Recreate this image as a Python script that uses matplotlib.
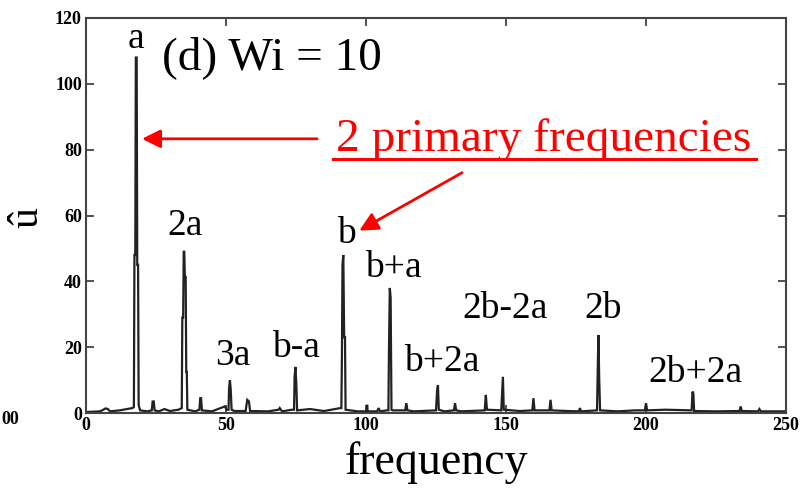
import matplotlib
matplotlib.use("Agg")
import matplotlib.pyplot as plt

# ---- data ----
freq = [0, 5, 6.2, 7.0, 7.8, 8.6, 12, 16.6,
        17.1, 17.3, 17.6, 17.8, 18.1, 18.3, 18.6, 18.8, 19.3,
        22, 23.5, 23.8, 24.2, 24.5, 26, 28, 30, 33,
        34.2, 34.4, 34.7, 34.9, 35.1, 35.3, 35.6, 35.8, 36.0, 36.2,
        39, 40.5, 40.8, 41.1, 41.4, 45, 49.6, 50.2,
        50.9, 51.1, 51.4, 51.7, 52.0, 53, 57, 57.6, 58.2, 58.6,
        65, 68.8, 69.2, 70, 73.5,
        74.3, 74.5, 74.8, 75.1, 75.4, 80, 85, 90.9,
        91.2, 91.4, 91.6, 91.9, 92.2, 92.5, 92.7,
        97, 100.2, 100.4, 100.6, 104, 104.5, 105, 107.4,
        108.0, 108.2, 108.5, 108.8, 109.1, 109.5,
        114, 114.4, 114.8, 117, 125.0, 125.4, 125.7, 126.0, 128,
        131.4, 131.8, 132.2, 134, 142.4, 142.8, 143.2,
        148.3, 148.6, 148.9, 149.2, 155, 159.4, 159.8, 160.2,
        165.5, 165.9, 166.3, 172, 176, 176.4, 176.8,
        182.5, 182.7, 183.0, 183.3, 183.6,
        190, 196, 199.6, 200.0, 200.4, 207, 216.3, 216.6, 216.9, 217.2,
        225, 233.4, 233.8, 234.2, 240, 240.5, 241, 245, 250]
amp = [0.3, 0.5, 1.0, 1.4, 1.2, 0.5, 0.8, 1.5,
       1.8, 48.0, 48.0, 108.0, 108.0, 45.0, 45.0, 2.5, 0.8,
       0.5, 0.8, 3.5, 3.5, 0.8, 0.5, 1.2, 0.6, 1.0,
       1.5, 29.0, 29.0, 49.0, 49.0, 41.3, 41.3, 12.5, 12.5, 1.0,
       0.5, 1.0, 4.5, 4.5, 0.8, 0.5, 2.0, 1.0,
       1.0, 7.5, 10.0, 7.0, 1.0, 0.6, 0.6, 4.0, 3.5, 0.6,
       0.5, 1.0, 1.5, 0.5, 1.0,
       1.0, 11.0, 14.0, 9.0, 0.8, 1.2, 0.6, 1.5,
       1.5, 17.0, 45.0, 48.0, 23.0, 23.0, 1.0,
       0.5, 0.5, 2.5, 0.5, 0.5, 1.5, 0.5, 0.8,
       0.8, 19.0, 38.0, 35.0, 1.0, 0.8,
       0.8, 3.0, 0.8, 0.5, 0.8, 7.0, 8.5, 1.0, 0.5,
       0.8, 3.0, 0.8, 0.5, 0.8, 5.5, 1.0,
       0.8, 6.0, 11.0, 1.0, 0.6, 0.8, 4.5, 0.8,
       0.8, 4.0, 0.8, 0.6, 0.5, 1.5, 0.5,
       0.8, 10.5, 23.7, 10.0, 0.8,
       0.5, 0.8, 0.8, 3.0, 0.8, 1.0, 0.8, 6.5, 6.0, 0.6,
       0.5, 0.6, 2.0, 0.6, 0.5, 1.2, 0.5, 0.5, 0.5]

peak_labels = ["a", "2a", "3a", "b-a", "b", "b+a", "b+2a", "2b-2a", "2b", "2b+2a"]
label_x = [17.9, 35.4, 52.5, 75.0, 92.9, 109.6, 127.1, 149.6, 184.6, 217.5]
label_y = [113.8, 56.8, 17.3, 19.8, 54.4, 44.1, 15.5, 31.8, 31.8, 12.3]

x_ticks = [0, 50, 100, 150, 200, 250]
y_ticks = [0, 20, 40, 60, 80, 100, 120]

W, H = 804, 492
fig = plt.figure(figsize=(W / 100, H / 100), dpi=100)
ax = fig.add_axes([86 / W, 1 - 413 / H, 700 / W, 395 / H])

serif = "Liberation Serif"

ax.plot(freq, amp, color="#222222", lw=1.6, solid_joinstyle="miter")
ax.set_xlim(0, 250)
ax.set_ylim(0, 120)
ax.set_xticks(x_ticks)
ax.set_yticks(y_ticks)
for s in ax.spines.values():
    s.set_color("#444444")
    s.set_linewidth(1.5)
ax.tick_params(direction="in", length=6, width=1.3, color="#444444",
               top=True, right=True, pad=3)
for lab in ax.get_xticklabels() + ax.get_yticklabels():
    lab.set_fontfamily(serif)
    lab.set_fontweight("bold")
    lab.set_fontsize(13)

for t, x, y in zip(peak_labels, label_x, label_y):
    ax.text(x, y, t, fontsize=27, family=serif, ha="center", va="center")

ax.text(66.4, 108, "(d) Wi = 10", fontsize=34, family=serif, ha="center", va="center")
ax.text(163.6, 83.0, "2 primary frequencies", fontsize=34, family=serif,
        color="red", ha="center", va="center")
ax.plot([88.2, 239.3], [77.2, 77.2], color="red", lw=2.2, clip_on=False)

ax.annotate("", xy=(20.0, 83.3), xytext=(82.5, 83.3),
            arrowprops=dict(arrowstyle="-|>", color="red", lw=2, mutation_scale=28,
                            shrinkA=0, shrinkB=0))
ax.annotate("", xy=(97.6, 55.4), xytext=(134.3, 73.0),
            arrowprops=dict(arrowstyle="-|>", color="red", lw=2, mutation_scale=28,
                            shrinkA=0, shrinkB=0))

fig.text(436 / W, 1 - 463 / H, "frequency", fontsize=33, family=serif,
         ha="center", va="center")
fig.text(27 / W, 1 - 218 / H, "û", fontsize=30, family=serif, rotation=90,
         ha="center", va="center")
fig.text(1 / W, 1 - 420 / H, "00", fontsize=13, family=serif, fontweight="bold",
         ha="left", va="center")

fig.savefig("out.png", dpi=100)
